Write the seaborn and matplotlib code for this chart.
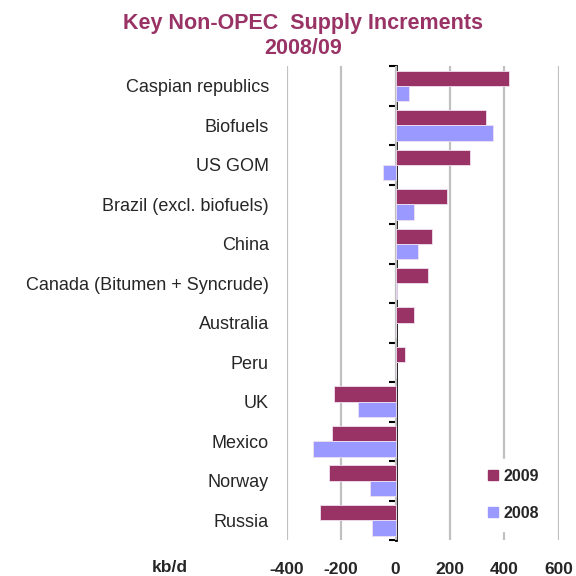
import matplotlib
matplotlib.use("Agg")
import matplotlib.pyplot as plt
import seaborn as sns
import pandas as pd
import numpy as np
from matplotlib.lines import Line2D

categories = ["Caspian republics", "Biofuels", "US GOM", "Brazil (excl. biofuels)", "China",
              "Canada (Bitumen + Syncrude)", "Australia", "Peru", "UK", "Mexico", "Norway", "Russia"]
values_2009 = [417, 332, 274, 190, 134, 119, 69, 36, -227, -233, -246, -279]
values_2008 = [49, 357, -46, 69, 81, 6, 0, 0, -137, -305, -93, -86]
series = ["2009", "2008"]
colors = ["#993366", "#9999FF"]
x_ticks = [-400, -200, 0, 200, 400, 600]

df = pd.DataFrame({
    "category": categories * 2,
    "value": values_2009 + values_2008,
    "year": ["2009"] * len(categories) + ["2008"] * len(categories),
})

sns.set_style("white")
plt.rcParams["font.family"] = ["Liberation Sans", "DejaVu Sans"]

fig = plt.figure(figsize=(5.76, 5.76), dpi=100)
ax = fig.add_axes([0.498, 0.0625, 0.472, 0.8225])

sns.barplot(data=df, y="category", x="value", hue="year", hue_order=series,
            palette=colors, saturation=1, orient="h", width=0.78, ax=ax, legend=False,
            edgecolor="#f0e0f0", linewidth=0.6, zorder=3)

ax.set_xlim(-400, 600)
ax.set_xticks(x_ticks)
ax.set_xticklabels([str(t) for t in x_ticks], fontweight="bold", fontsize=12.5)
ax.xaxis.grid(True, color="#c0c0c0", linewidth=1.6, zorder=0)
ax.yaxis.grid(False)
ax.set_axisbelow(True)
ax.tick_params(axis="x", length=0, pad=16)
ax.tick_params(axis="y", length=0, pad=13, labelsize=13)
for s in ["left", "right", "top", "bottom"]:
    ax.spines[s].set_visible(False)
ax.set_xlabel("")
ax.set_ylabel("")

# zero axis with category boundary ticks
sec = ax.secondary_yaxis(0.4)
n = len(categories)
sec.set_yticks(np.arange(-0.5, n, 1.0))
sec.set_yticklabels([])
sec.tick_params(axis="y", length=5, width=1.5, direction="out", color="black")
sec.spines["left"].set_linewidth(2)
sec.spines["left"].set_color("black")
for s in ["right", "top", "bottom"]:
    sec.spines[s].set_visible(False)

handles = [Line2D([0], [0], marker="s", linestyle="none", markersize=7,
                  markerfacecolor=c, markeredgecolor=c) for c in colors]
leg = ax.legend(handles, series, loc="lower right", bbox_to_anchor=(0.992, 0.003),
                frameon=True, framealpha=1, edgecolor="white", fancybox=False,
                prop={"weight": "bold", "size": 11.5}, labelspacing=1.4,
                handletextpad=0.15, handlelength=1.0, borderpad=0.6)
leg.set_zorder(5)

fig.text(0.526, 0.960, "Key Non-OPEC  Supply Increments", ha="center", va="center",
         fontsize=15.5, fontweight="bold", color="#993366")
fig.text(0.526, 0.916, "2008/09", ha="center", va="center",
         fontsize=15.5, fontweight="bold", color="#993366")
fig.text(0.295, 0.015, "kb/d", ha="center", va="center", fontsize=12.5, fontweight="bold")

fig.savefig("out.png", dpi=100)
